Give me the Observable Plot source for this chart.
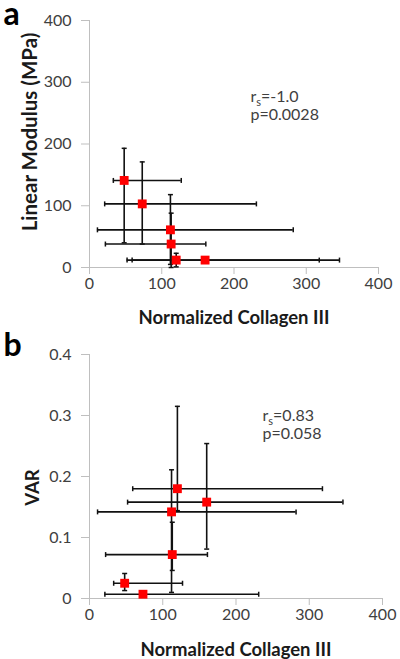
<!DOCTYPE html>
<html><head><meta charset="utf-8">
<script src="https://cdn.jsdelivr.net/npm/d3@7"></script>
<script src="https://cdn.jsdelivr.net/npm/@observablehq/plot@0.6"></script>
<style>
body{margin:0;background:#fff;width:400px;height:659px;overflow:hidden}
svg{display:block}
</style></head><body><div id="chart"></div>
<script>
// ---- data ----
const collagen   = [48, 73, 112, 113, 120, 160];
const collagenLo = [33, 21, 11, 22, 59, 52];
const collagenHi = [127, 231, 282, 161, 318, 346];

const modulus   = [141, 103, 61, 38, 12, 12];
const modulusLo = [40, 38, 5, 0, 1, 12];
const modulusHi = [193, 171, 118, 88, 23, 12];

const varValues = [0.025, 0.007, 0.142, 0.072, 0.180, 0.158];
const varLo     = [0.013, 0.007, 0.010, 0.046, 0.144, 0.081];
const varHi     = [0.041, 0.007, 0.211, 0.125, 0.315, 0.254];

const xTicks = [0, 100, 200, 300, 400];
const modulusTicks = [0, 100, 200, 300, 400];
const varTicks = [0, 0.1, 0.2, 0.3, 0.4];

const xTitle = "Normalized Collagen III";
const yTitleA = "Linear Modulus (MPa)";
const yTitleB = "VAR";
const letterA = "a";
const letterB = "b";
const statsA = ["r_s=-1.0", "p=0.0028"];
const statsB = ["r_s=0.83", "p=0.058"];

// ---- build tables ----
const rowsA = collagen.map((x, i) => ({x, xlo: collagenLo[i], xhi: collagenHi[i], y: modulus[i], ylo: modulusLo[i], yhi: modulusHi[i]}));
const rowsB = collagen.map((x, i) => ({x, xlo: collagenLo[i], xhi: collagenHi[i], y: varValues[i], ylo: varLo[i], yhi: varHi[i]}));

const capV = {draw(ctx, size) { const h = Math.sqrt(size / Math.PI); ctx.moveTo(0, -h); ctx.lineTo(0, h); }};
const capH = {draw(ctx, size) { const h = Math.sqrt(size / Math.PI); ctx.moveTo(-h, 0); ctx.lineTo(h, 0); }};

function panel(o) {
  const bar = {stroke: "#111", strokeWidth: 1.6};
  const cap = {stroke: "#111", strokeWidth: 1.5, fill: "none", r: 2.5};
  const svg = Plot.plot({
    width: 400, height: o.height,
    marginLeft: 89, marginRight: o.marginRight, marginTop: o.marginTop, marginBottom: o.marginBottom,
    style: {fontFamily: "Lato, 'Open Sans', sans-serif", fontSize: "16px", background: "white", overflow: "visible"},
    x: {domain: [0, 400]},
    y: {domain: o.yDomain},
    marks: [
      Plot.ruleX([0], {stroke: "#bfbfbf"}),
      Plot.ruleY([o.yDomain[0]], {stroke: "#bfbfbf"}),
      Plot.axisX({ticks: xTicks, tickSize: 7, tickPadding: 3, stroke: "#bfbfbf", fill: "#404040", label: null}),
      Plot.axisY({ticks: o.yTicks, tickSize: 8, tickPadding: 10, tickFormat: d => `${d}`, stroke: "#bfbfbf", fill: "#404040", label: null}),
      Plot.ruleY(o.rows, {y: "y", x1: "xlo", x2: "xhi", ...bar}),
      Plot.ruleX(o.rows, {x: "x", y1: "ylo", y2: "yhi", ...bar}),
      Plot.dot(o.rows, {x: "xlo", y: "y", symbol: capV, ...cap}),
      Plot.dot(o.rows, {x: "xhi", y: "y", symbol: capV, ...cap}),
      Plot.dot(o.rows, {x: "x", y: "ylo", symbol: capH, ...cap}),
      Plot.dot(o.rows, {x: "x", y: "yhi", symbol: capH, ...cap}),
      Plot.dot(o.rows, {x: "x", y: "y", symbol: "square", r: 5, fill: "#ff0000", stroke: "none"}),
      Plot.text([o.stats.join("\n")], {text: d => d, frameAnchor: "top-left", textAnchor: "start", lineAnchor: "middle",
        dx: o.statsDx, dy: o.statsDy, fill: "#404040", fontSize: 16, lineHeight: 1.1}),
      Plot.text([o.yTitle], {text: d => d, frameAnchor: "left", textAnchor: "middle", lineAnchor: "middle", rotate: -90,
        dx: o.yTitleDx, dy: o.yTitleDy, fontWeight: "bold", fontSize: o.yTitleSize, fill: "#1a1a1a"}),
      Plot.text([xTitle], {text: d => d, frameAnchor: "bottom", textAnchor: "middle", lineAnchor: "middle", dy: o.xTitleDy,
        fontWeight: "bold", fontSize: 18.5, fill: "#1a1a1a"}),
      Plot.text([o.letter], {text: d => d, frameAnchor: "top-left", textAnchor: "start", lineAnchor: "bottom",
        dx: -86, dy: o.letterDy, fontWeight: "bold", fontSize: 32, fill: "#000"})
    ]
  });
  // subscript "s" in r_s
  d3.select(svg).selectAll("text, tspan").each(function() {
    const el = d3.select(this);
    if (this.childElementCount === 0 && /^r_s/.test(this.textContent)) {
      const rest = this.textContent.slice(3);
      el.text(null);
      el.append("tspan").text("r");
      el.append("tspan").attr("font-size", 11).attr("dy", 4).text("s");
      el.append("tspan").attr("dy", -4).text(rest);
    }
  });
  return svg;
}

const root = document.getElementById("chart");
root.append(panel({rows: rowsA, height: 330, marginTop: 20, marginBottom: 63, marginRight: 22,
  yDomain: [0, 400], yTicks: modulusTicks, yTitle: yTitleA, yTitleSize: 20.5, stats: statsA, letter: letterA,
  statsDx: 161, statsDy: 85, yTitleDx: -59, yTitleDy: -12, xTitleDy: 51, letterDy: 4}));
root.append(panel({rows: rowsB, height: 329, marginTop: 24, marginBottom: 61, marginRight: 18,
  yDomain: [0, 0.4], yTicks: varTicks, yTitle: yTitleB, yTitleSize: 18.5, stats: statsB, letter: letterB,
  statsDx: 173, statsDy: 70, yTitleDx: -56, yTitleDy: 11, xTitleDy: 52, letterDy: 1}));
</script></body></html>
